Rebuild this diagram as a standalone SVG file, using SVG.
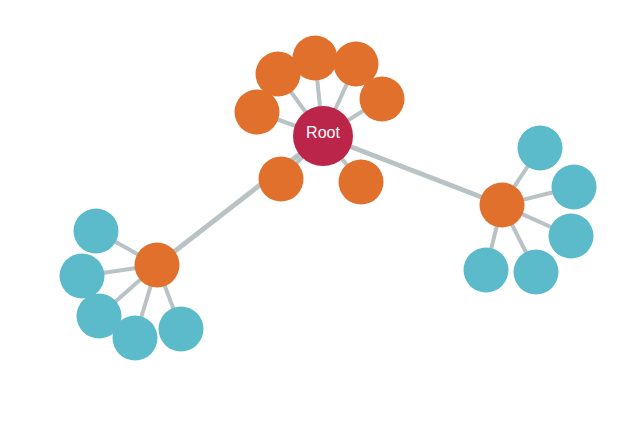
<svg xmlns="http://www.w3.org/2000/svg" width="640" height="426" viewBox="0 0 640 426">
<style>
.link{stroke:#b9c3c6;stroke-linecap:butt;fill:none}
.main{stroke-width:5}
.leaf{stroke-width:4}
.orange{fill:#e0702b}
.cyan{fill:#5bbbcb}
.root{fill:#bb2549}
.label{font-family:"Liberation Sans",Arial,sans-serif;font-size:16px;fill:#ffffff;text-anchor:middle}
</style>
<rect width="640" height="426" fill="#ffffff"/>
<g id="connectors">
<line class="link main" x1="323" y1="136" x2="157" y2="265"/>
<line class="link main" x1="323" y1="136" x2="502" y2="205"/>
<line class="link leaf" x1="323" y1="136" x2="257" y2="112"/>
<line class="link leaf" x1="323" y1="136" x2="278" y2="74"/>
<line class="link leaf" x1="323" y1="136" x2="315" y2="58"/>
<line class="link leaf" x1="323" y1="136" x2="356" y2="64"/>
<line class="link leaf" x1="323" y1="136" x2="382" y2="99"/>
<line class="link leaf" x1="323" y1="136" x2="281" y2="179"/>
<line class="link leaf" x1="323" y1="136" x2="361" y2="182"/>
<line class="link leaf" x1="157" y1="265" x2="96" y2="231"/>
<line class="link leaf" x1="157" y1="265" x2="82" y2="276"/>
<line class="link leaf" x1="157" y1="265" x2="99" y2="316"/>
<line class="link leaf" x1="157" y1="265" x2="135" y2="338"/>
<line class="link leaf" x1="157" y1="265" x2="181" y2="329"/>
<line class="link leaf" x1="502" y1="205" x2="540" y2="148"/>
<line class="link leaf" x1="502" y1="205" x2="574" y2="187"/>
<line class="link leaf" x1="502" y1="205" x2="571" y2="236"/>
<line class="link leaf" x1="502" y1="205" x2="486" y2="270"/>
<line class="link leaf" x1="502" y1="205" x2="536" y2="272"/>
</g>
<g id="n-o1"><circle class="orange" cx="257" cy="112" r="22.5"/></g>
<g id="n-o2"><circle class="orange" cx="278" cy="74" r="22.5"/></g>
<g id="n-o3"><circle class="orange" cx="356" cy="64" r="22.5"/></g>
<g id="n-o4"><circle class="orange" cx="315" cy="58" r="22.5"/></g>
<g id="n-o5"><circle class="orange" cx="382" cy="99" r="22.5"/></g>
<g id="n-o6"><circle class="orange" cx="281" cy="179" r="22.5"/></g>
<g id="n-o7"><circle class="orange" cx="361" cy="182" r="22.5"/></g>
<g id="n-left"><circle class="orange" cx="157" cy="265" r="22.5"/></g>
<g id="n-right"><circle class="orange" cx="502" cy="205" r="22.5"/></g>
<g id="n-l1"><circle class="cyan" cx="96" cy="231" r="22.5"/></g>
<g id="n-l2"><circle class="cyan" cx="82" cy="276" r="22.5"/></g>
<g id="n-l3"><circle class="cyan" cx="99" cy="316" r="22.5"/></g>
<g id="n-l4"><circle class="cyan" cx="135" cy="338" r="22.5"/></g>
<g id="n-l5"><circle class="cyan" cx="181" cy="329" r="22.5"/></g>
<g id="n-r1"><circle class="cyan" cx="540" cy="148" r="22.5"/></g>
<g id="n-r2"><circle class="cyan" cx="574" cy="187" r="22.5"/></g>
<g id="n-r3"><circle class="cyan" cx="571" cy="236" r="22.5"/></g>
<g id="n-r4"><circle class="cyan" cx="486" cy="270" r="22.5"/></g>
<g id="n-r5"><circle class="cyan" cx="536" cy="272" r="22.5"/></g>
<g id="n-root"><circle class="root" cx="323" cy="136" r="30"/><text class="label" x="323" y="137.5">Root</text></g>
</svg>
